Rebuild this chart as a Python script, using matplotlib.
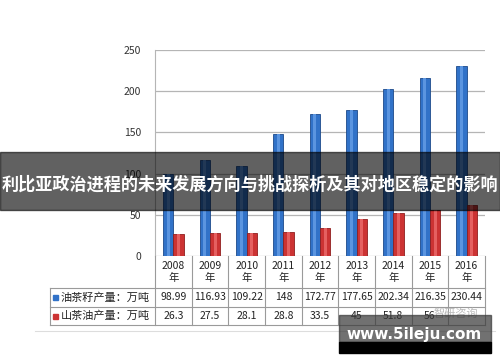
import matplotlib
matplotlib.use("Agg")
import matplotlib.pyplot as plt
from matplotlib.patches import Rectangle
import numpy as np

plt.rcParams['font.family'] = ['Noto Sans CJK SC', 'DejaVu Sans']

years = ['2008', '2009', '2010', '2011', '2012', '2013', '2014', '2015', '2016']
seed_output = [98.99, 116.93, 109.22, 148, 172.77, 177.65, 202.34, 216.35, 230.44]
oil_output = [26.3, 27.5, 28.1, 28.8, 33.5, 45, 51.8, 56, 62]
seed_labels = ['98.99', '116.93', '109.22', '148', '172.77', '177.65', '202.34', '216.35', '230.44']
oil_labels = ['26.3', '27.5', '28.1', '28.8', '33.5', '45', '51.8', '56', '']
series_names = ['油茶籽产量：万吨', '山茶油产量：万吨']
title = '利比亚政治进程的未来发展方向与挑战探析及其对地区稳定的影响'

W, H = 500, 362
fig = plt.figure(figsize=(W / 100, H / 100), dpi=100)


def px_rect(x0, y0, x1, y1):
    # pixel box (top-left origin) -> figure fraction rect
    return [x0 / W, 1 - y1 / H, (x1 - x0) / W, (y1 - y0) / H]


# main chart
ax = fig.add_axes(px_rect(155, 50, 485, 256))
x = np.arange(len(years))
bw = 0.28
ax.bar(x - bw / 2, seed_output, bw, color='#3172c8', edgecolor='#1d4a8a', linewidth=0.6, zorder=3)
ax.bar(x + bw / 2, oil_output, bw, color='#cc3333', edgecolor='#8f1f1f', linewidth=0.6, zorder=3)
# light highlight stripe on bars
ax.bar(x - bw / 2, seed_output, bw * 0.3, color='#5b95e0', linewidth=0, zorder=4)
ax.bar(x + bw / 2, oil_output, bw * 0.3, color='#e56060', linewidth=0, zorder=4)

ax.set_xlim(-0.5, len(years) - 0.5)
ax.set_ylim(0, 250)
ax.set_yticks([0, 50, 100, 150, 200, 250])
ax.tick_params(axis='y', length=0, labelsize=7.5, colors='#333333', pad=10)
ax.set_xticks([])
ax.grid(axis='y', color='#b5b5b5', linewidth=0.9, zorder=0)
for s in ['top', 'right', 'bottom']:
    ax.spines[s].set_visible(False)
ax.spines['left'].set_color('#b5b5b5')

# data table under the chart
tax = fig.add_axes(px_rect(50, 256, 488, 325))
unit = 330 / len(years)
left_x = -0.5 - 105 / unit
right_x = len(years) - 0.5 + 3 / unit
tax.set_xlim(left_x, right_x)
tax.set_ylim(69, 0)
tax.axis('off')
lc = '#9a9a9a'
for k in range(len(years) + 1):
    tax.plot([k - 0.5, k - 0.5], [0, 69], color=lc, lw=0.8, clip_on=False)
tax.plot([left_x, left_x], [32, 69], color=lc, lw=0.8, clip_on=False)
for yy in [32, 51, 69]:
    tax.plot([left_x, len(years) - 0.5], [yy, yy], color=lc, lw=0.8, clip_on=False)

for i, yr in enumerate(years):
    tax.text(i, 16, yr + '\n年', ha='center', va='center', fontsize=7.5, color='#222222', linespacing=1.3)
    tax.text(i, 41.5, seed_labels[i], ha='center', va='center', fontsize=7.5, color='#222222')
    tax.text(i, 60, oil_labels[i], ha='center', va='center', fontsize=7.5, color='#222222')

for row_y, name, col in [(41.5, series_names[0], '#3172c8'), (60, series_names[1], '#cc3333')]:
    tax.add_patch(Rectangle((left_x + 0.08, row_y - 2.5), 0.15, 5, color=col, clip_on=False))
    tax.text(left_x + 0.3, row_y, name, ha='left', va='center', fontsize=8, color='#222222')

tax.text(len(years) - 1.3, 58, '智研咨询', ha='center', va='center', fontsize=8, color='#bbbbbb')

# thin bottom rule
fig.add_artist(plt.Line2D([35 / W, 495 / W], [1 - 331 / H, 1 - 331 / H], color='#dddddd', lw=0.8))

# dark title banner
fig.add_artist(Rectangle((0, 1 - 210 / H), 1, 58 / H, transform=fig.transFigure,
                         color='black', alpha=0.62, zorder=10))
fig.text(0.5, 1 - 185 / H, title, ha='center', va='center', fontsize=12.3, fontweight='bold',
         color='white', zorder=11)

# watermark box
fig.add_artist(Rectangle((339 / W, 1 - 342 / H), 152 / W, 27 / H, transform=fig.transFigure,
                         color='#3a3a3a', alpha=0.72, zorder=10))
fig.add_artist(Rectangle((339 / W, 1 - 353 / H), 152 / W, 11 / H, transform=fig.transFigure,
                         color='black', zorder=10))
fig.text(414 / W, 1 - 334 / H, 'www.5ileju.com', ha='center', va='center', fontsize=11,
         fontweight='bold', color='white', family='DejaVu Sans', zorder=11)

fig.savefig('out.png', dpi=100)
